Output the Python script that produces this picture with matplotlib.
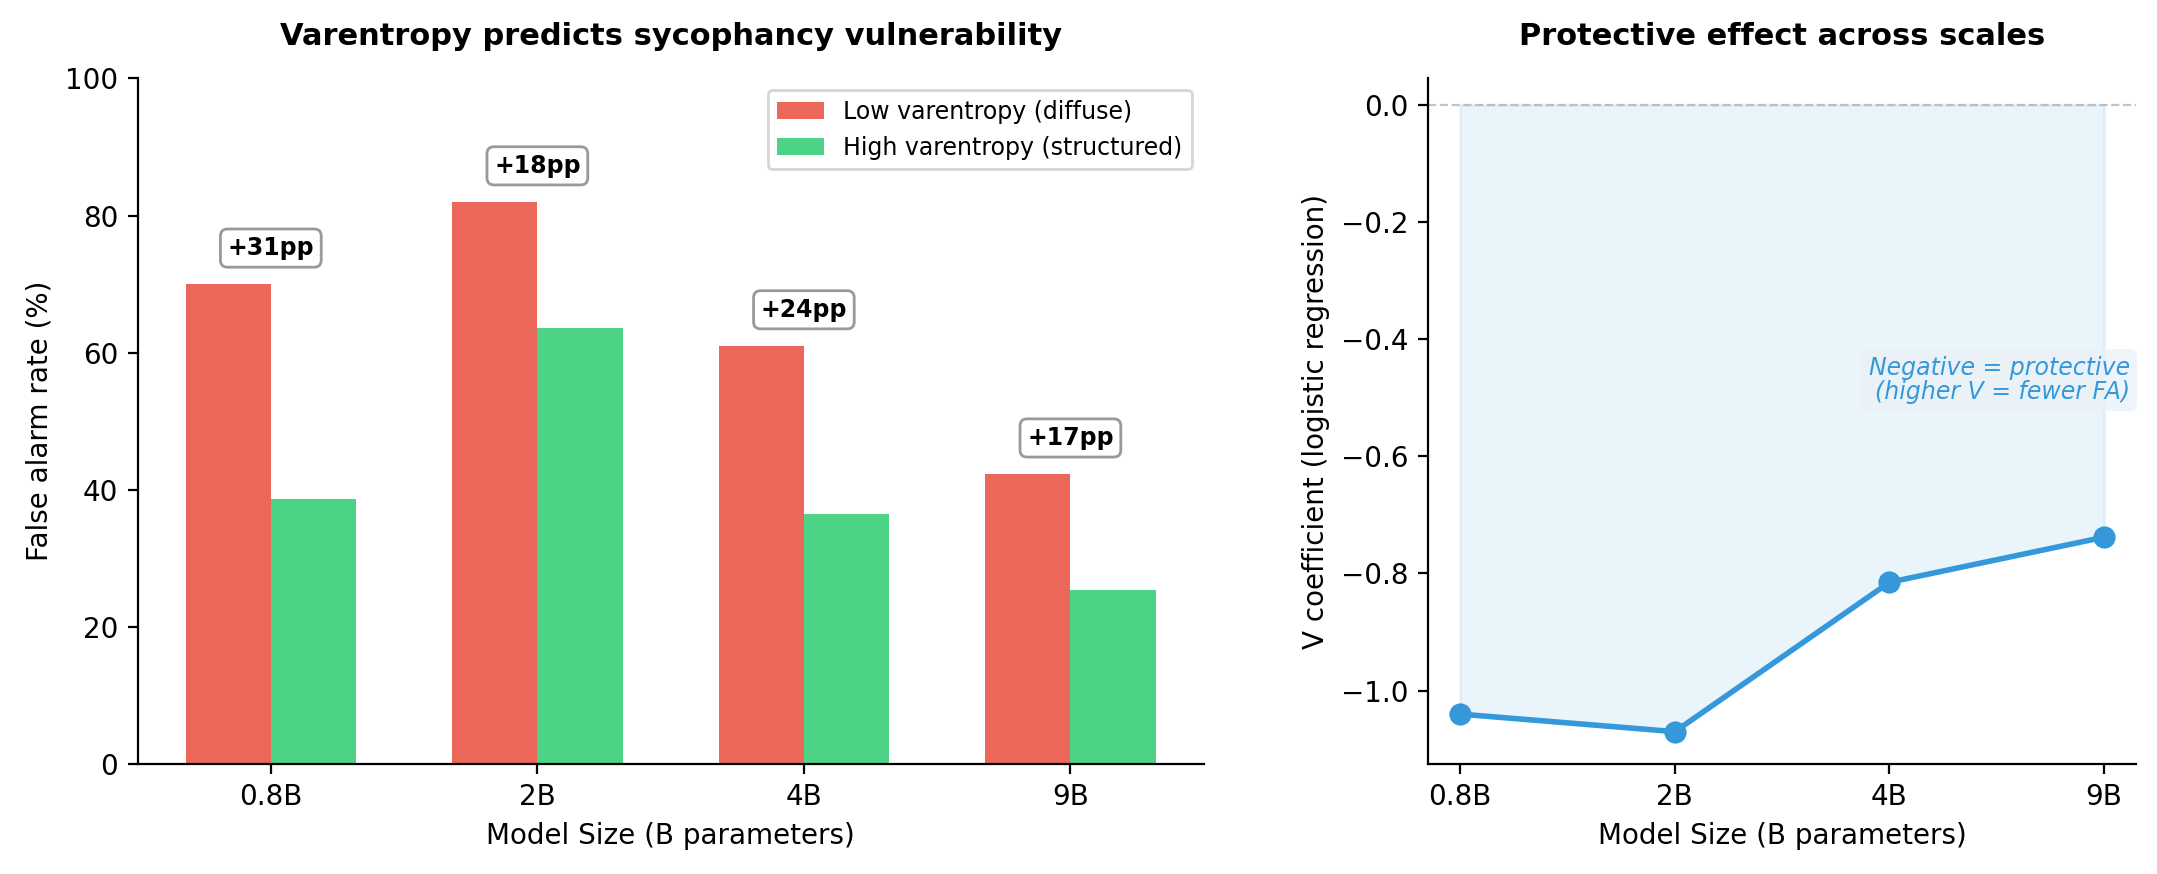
import matplotlib
matplotlib.use("Agg")
import matplotlib.pyplot as plt
import numpy as np

sizes = ["0.8B", "2B", "4B", "9B"]
low_v = [70.0, 82.0, 61.0, 42.3]
high_v = [38.7, 63.6, 36.5, 25.4]
gaps = ["+31pp", "+18pp", "+24pp", "+17pp"]
coef = [-1.04, -1.07, -0.815, -0.738]

W, H = 1568, 635
fig = plt.figure(figsize=(10.785, 4.37), dpi=200)
ax1 = fig.add_axes([100/W, 1-555/H, 775/W, 498/H])
ax2 = fig.add_axes([1038/W, 1-555/H, 515/W, 498/H])

x = np.arange(len(sizes))
w = 0.32
ax1.bar(x - w/2, low_v, w, color="#e74c3c", alpha=0.85, label="Low varentropy (diffuse)")
ax1.bar(x + w/2, high_v, w, color="#2ecc71", alpha=0.85, label="High varentropy (structured)")
for i, g in enumerate(gaps):
    ax1.text(x[i], max(low_v[i], high_v[i]) + 3.5, g, ha="center", va="bottom", fontsize=8.5,
             fontweight="bold", bbox=dict(boxstyle="round,pad=0.3", fc="white", ec="#999999"))
ax1.set_xticks(x)
ax1.set_xticklabels(sizes, fontsize=10)
ax1.set_ylim(0, 100)
ax1.set_xlim(-0.5, 3.5)
ax1.tick_params(labelsize=10)
ax1.set_xlabel("Model Size (B parameters)", fontsize=10)
ax1.set_ylabel("False alarm rate (%)", fontsize=10)
ax1.set_title("Varentropy predicts sycophancy vulnerability", fontsize=11, fontweight="bold", pad=12)
ax1.legend(loc="upper right", fontsize=8.5)
for s in ["top", "right"]:
    ax1.spines[s].set_visible(False)

ax2.fill_between(x, coef, 0, color="#3498db", alpha=0.1)
ax2.plot(x, coef, "o-", color="#3498db", lw=2, ms=7)
ax2.axhline(0, color="#aaaaaa", ls="--", lw=0.8, alpha=0.7)
ax2.set_xticks(x)
ax2.set_xticklabels(sizes)
ax2.set_ylim(-1.125, 0.045)
ax2.set_xlim(-0.15, 3.15)
ax2.tick_params(labelsize=10)
ax2.set_xlabel("Model Size (B parameters)", fontsize=10)
ax2.set_ylabel("V coefficient (logistic regression)", fontsize=10)
ax2.set_title("Protective effect across scales", fontsize=11, fontweight="bold", pad=12)
ax2.text(3.12, -0.47, "Negative = protective\n(higher V = fewer FA)", ha="right", va="center",
         fontsize=8.5, style="italic", color="#3498db", linespacing=1.0,
         bbox=dict(boxstyle="round,pad=0.3", fc="#eaf2f8", ec="none", alpha=0.8))
for s in ["top", "right"]:
    ax2.spines[s].set_visible(False)

fig.savefig("out.png", dpi=200)
